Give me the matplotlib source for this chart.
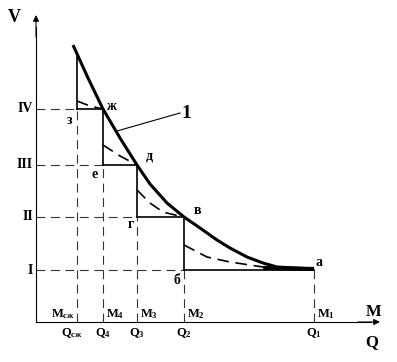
import numpy as np
import matplotlib
matplotlib.use("Agg")
import matplotlib.pyplot as plt

plt.rcParams['font.family'] = ['Liberation Serif', 'DejaVu Serif']
plt.rcParams['font.weight'] = 'bold'
plt.rcParams['mathtext.fontset'] = 'custom'
plt.rcParams['mathtext.rm'] = 'Liberation Serif:bold'
plt.rcParams['mathtext.bf'] = 'Liberation Serif:bold'
plt.rcParams['mathtext.it'] = 'Liberation Serif:bold'

# flow positions on Q axis and speed levels
q_names = ['сж', '4', '3', '2', '1']
q_pos = [41, 67, 101, 148, 278]
level_names = ['I', 'II', 'III', 'IV']
levels = [52, 105, 157, 213]

# main characteristic curve (1)
curve_q = [37, 52, 67, 84, 101, 114, 131, 148, 164, 181, 194, 211, 227, 241, 278]
curve_v = [277, 244, 213, 184, 157, 138, 119, 105, 94, 82, 74, 65, 59, 55, 53]

# dashed curves inside each step
dash_curves = [
    ([41, 54, 67], [221, 216, 213]),
    ([67, 84, 101], [177, 166, 157]),
    ([101, 114, 127, 147], [132, 119, 110, 105]),
    ([148, 171, 194, 227, 241], [77, 65, 60, 55, 54]),
]

point_labels = ['з', 'ж', 'д', 'е', 'г', 'в', 'б', 'а']
point_xy = [(34, 201), (75, 216), (113, 166), (59, 148), (95, 97),
            (161, 111), (141, 42), (283, 60)]

fig = plt.figure(figsize=(3.97, 3.62), dpi=100)
ax = fig.add_axes([0, 0, 1, 1])
ax.set_xlim(-36, 361)
ax.set_ylim(-40, 322)
ax.axis('off')

# axes with arrows
ax.plot([0, 0], [0, 295], color='k', lw=0.8)
ax.plot([0, 335], [0, 0], color='k', lw=0.8)
ax.annotate('', xy=(0, 307), xytext=(0, 285),
            arrowprops=dict(arrowstyle='-|>', color='k', lw=0.8,
                            mutation_scale=9, shrinkA=0, shrinkB=0))
ax.annotate('', xy=(344, 0), xytext=(322, 0),
            arrowprops=dict(arrowstyle='-|>', color='k', lw=0.8,
                            mutation_scale=9, shrinkA=0, shrinkB=0))

dash_kw = dict(color='#333333', lw=0.8, dashes=(8, 5))
# horizontal guides from V axis to the step start
hx = [q_pos[3], q_pos[2], q_pos[1], q_pos[0]]
for lv, x in zip(levels, hx):
    ax.plot([0, x], [lv, lv], **dash_kw)
# vertical guides from Q axis up to level
vtop = [levels[3], levels[2], levels[1], levels[0], levels[0]]
for x, t in zip(q_pos, vtop):
    ax.plot([x, x], [0, t], **dash_kw)

# staircase
top0 = np.interp(q_pos[0], curve_q, curve_v)
stairs_top = [top0, levels[3], levels[2], levels[1]]
stairs_bot = [levels[3], levels[2], levels[1], levels[0]]
for i in range(4):
    ax.plot([q_pos[i], q_pos[i]], [stairs_top[i], stairs_bot[i]], color='k', lw=1.2)
    ax.plot([q_pos[i], q_pos[i + 1]], [stairs_bot[i], stairs_bot[i]], color='k', lw=1.2)

for xs, ys in dash_curves:
    ax.plot(xs, ys, color='k', lw=1.2, dashes=(7, 4))

ax.plot(curve_q, curve_v, color='k', lw=2.2, solid_capstyle='butt',
        solid_joinstyle='round')
# thick tail at level I
ax.plot([227, 278], [54, 53], color='k', lw=3, solid_capstyle='butt')

# leader for "1"
ax.plot([81, 144], [191, 209], color='k', lw=0.8)
ax.text(150, 209, '1', fontsize=14, ha='center', va='center')

for lab, (x, y) in zip(point_labels, point_xy):
    ax.text(x, y, lab, fontsize=10, ha='center', va='center')

ax.text(-22, 304, 'V', fontsize=13, ha='center', va='center')
ax.text(338, 10, 'M', fontsize=12, ha='center', va='center')
ax.text(336, -20, 'Q', fontsize=12, ha='center', va='center')

for name, lv in zip(level_names, levels):
    ax.text(-3, lv, name, fontsize=10, ha='right', va='center')

for i, (n, x) in enumerate(zip(q_names, q_pos)):
    if i == 0:
        ax.text(x - 2, 8, r'$\mathrm{M}_{\mathrm{%s}}$' % n, fontsize=9, ha='right', va='center')
        ax.text(x - 5, -11, r'$\mathrm{Q}_{\mathrm{%s}}$' % n, fontsize=9, ha='center', va='center')
    else:
        ax.text(x + 3, 8, r'$\mathrm{M}_{\mathrm{%s}}$' % n, fontsize=9, ha='left', va='center')
        ax.text(x, -11, r'$\mathrm{Q}_{\mathrm{%s}}$' % n, fontsize=9, ha='center', va='center')

fig.savefig('out.png', dpi=100)
